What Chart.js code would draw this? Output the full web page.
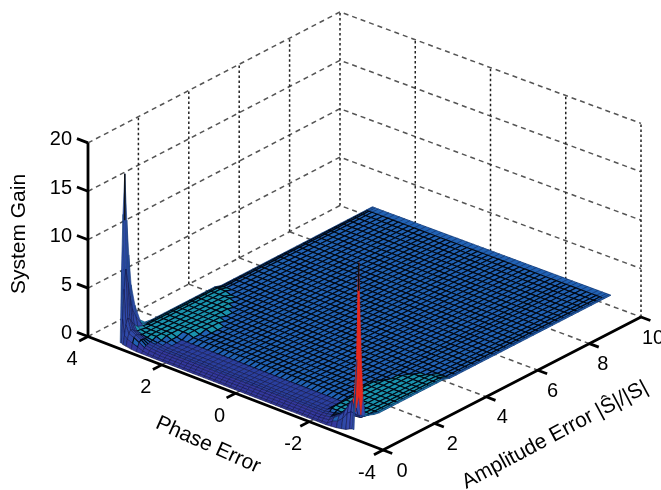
<!DOCTYPE html>
<html>
<head>
<meta charset="utf-8">
<script src="https://cdn.jsdelivr.net/npm/chart.js@4"></script>
<style>
  body { margin: 0; background: #fff; }
</style>
</head>
<body>
<canvas id="gainChart" width="661" height="490"></canvas>
<script>
const zTicks = [0, 5, 10, 15, 20];
const phaseTicks = [4, 2, 0, -2, -4];
const ampTicks = [0, 2, 4, 6, 8, 10];

// sample positions of the surface
const amps = [0.02, 0.07, 0.13, 0.2, 0.28, 0.36, 0.45, 0.6, 0.8, 1,
  1.25, 1.5, 1.75, 2, 2.25, 2.5, 2.75, 3, 3.25, 3.5, 3.75, 4, 4.25, 4.5, 4.75, 5, 5.25, 5.5,
  5.75, 6, 6.25, 6.5, 6.75, 7, 7.25, 7.5, 7.75, 8, 8.25, 8.5, 8.75, 9, 9.25, 9.5, 9.75, 10];
const phases = [3.14, 3.11, 3.06, 2.98, 2.84, 2.7, 2.56, 2.42, 2.28,
  2.14, 2, 1.86, 1.72, 1.58, 1.44, 1.3, 1.16, 1.02, 0.88, 0.74, 0.6, 0.46, 0.32, 0.18, 0.04,
  -0.1, -0.24, -0.38, -0.52, -0.66, -0.8, -0.94, -1.08, -1.22, -1.36, -1.5, -1.64, -1.78, -1.92, -2.06, -2.18,
  -2.3, -2.44, -2.58, -2.72, -2.86, -2.98, -3.08, -3.15, -3.2];

// gain, low amplitude part (first 10 amps) per phase band
const lowL0 = [0.6, 8, 13.7, 17.8, 12.9, 9.2, 6, 3.7, 1.9, 1.4];
const lowL1 = [0.6, 3, 6, 8, 6.5, 5, 3.6, 2.5, 1.6, 1.3];
const lowL2 = [0.5, 1.4, 2.4, 3, 2.8, 2.4, 2, 1.6, 1.4, 1.3];
const lowL3 = [0.45, 1.1, 1.6, 1.9, 1.8, 1.6, 1.45, 1.4, 1.3, 1.3];
const low4 = [0.35, 0.9, 1.4, 1.6, 1.5, 1.4, 1.3, 1.3, 1.3, 1.3];
const low5 = [0.3, 0.7, 1.1, 1.3, 1.25, 1.2, 1.2, 1.3, 1.3, 1.3];
const low6 = [0.3, 0.5, 0.75, 0.9, 0.95, 1.05, 1.1, 1.3, 1.3, 1.3];
const low7 = [0.3, 0.4, 0.65, 0.8, 0.9, 1, 1.05, 1.1, 1.3, 1.3];
const low8 = [0.3, 0.4, 0.6, 0.75, 0.85, 0.92, 0.96, 1.05, 1.1, 1.1];
const lowMid = [0.3, 0.38, 0.55, 0.7, 0.8, 0.85, 0.9, 0.93, 0.95, 0.98];
const lowR0 = [0.9, 4.5, 8, 17.9, 10, 4, 1.9, 1.6, 1.4, 1.3];
const lowR1 = [0.9, 2.5, 2.5, 8, 4, 1.9, 1.6, 1.5, 1.4, 1.3];
const lowR2 = [0.8, 2.5, 3.6, 3.8, 2.6, 1.7, 1.4, 1.35, 1.3, 1.3];
const lowR3 = [0.6, 2.2, 3, 3.2, 2.4, 1.8, 1.35, 1.3, 1.3, 1.3];
const lowR4 = [0.5, 1.5, 2.1, 2.2, 1.9, 1.5, 1.3, 1.3, 1.3, 1.3];
const lowR5 = [0.4, 1, 1.5, 1.6, 1.4, 1.3, 1.2, 1.3, 1.3, 1.3];
const lowR6 = [0.35, 0.8, 1.1, 1.2, 1.2, 1.2, 1.2, 1.3, 1.3, 1.3];
const lowR7 = [0.3, 0.4, 0.65, 0.85, 0.95, 1.05, 1.2, 1.3, 1.3, 1.3];
const lowR8 = [0.3, 0.4, 0.6, 0.75, 0.85, 0.95, 1.2, 1.3, 1.3, 1.3];

// rest of each row, amplitude 1.25 to 10
const tailFlat = [1.1, 1.1, 1.1, 1.1, 1.1, 1.1, 1.1, 1.1, 1.1, 1.1, 1.1, 1.1, 1.1, 1.1, 1.1, 1.1, 1.1, 1.1,
  1.1, 1.1, 1.1, 1.1, 1.1, 1.1, 1.1, 1.1, 1.1, 1.1, 1.1, 1.1, 1.1, 1.1, 1.1, 1.1, 1.1, 1.1];
const tailT11 = [1.3, 1.3, 1.3, 1.3, 1.3, 1.3, 1.3, 1.3, 1.3, 1.3, 1.3, 1.1, 1.1, 1.1, 1.1, 1.1, 1.1, 1.1,
  1.1, 1.1, 1.1, 1.1, 1.1, 1.1, 1.1, 1.1, 1.1, 1.1, 1.1, 1.1, 1.1, 1.1, 1.1, 1.1, 1.1, 1.1];
const tailT10 = [1.3, 1.3, 1.3, 1.3, 1.3, 1.3, 1.3, 1.3, 1.3, 1.3, 1.1, 1.1, 1.1, 1.1, 1.1, 1.1, 1.1, 1.1,
  1.1, 1.1, 1.1, 1.1, 1.1, 1.1, 1.1, 1.1, 1.1, 1.1, 1.1, 1.1, 1.1, 1.1, 1.1, 1.1, 1.1, 1.1];
const tailT9 = [1.3, 1.3, 1.3, 1.3, 1.3, 1.3, 1.3, 1.3, 1.3, 1.1, 1.1, 1.1, 1.1, 1.1, 1.1, 1.1, 1.1, 1.1,
  1.1, 1.1, 1.1, 1.1, 1.1, 1.1, 1.1, 1.1, 1.1, 1.1, 1.1, 1.1, 1.1, 1.1, 1.1, 1.1, 1.1, 1.1];
const tailT8 = [1.3, 1.3, 1.3, 1.3, 1.3, 1.3, 1.3, 1.3, 1.1, 1.1, 1.1, 1.1, 1.1, 1.1, 1.1, 1.1, 1.1, 1.1,
  1.1, 1.1, 1.1, 1.1, 1.1, 1.1, 1.1, 1.1, 1.1, 1.1, 1.1, 1.1, 1.1, 1.1, 1.1, 1.1, 1.1, 1.1];
const tailT6 = [1.3, 1.3, 1.3, 1.3, 1.3, 1.3, 1.1, 1.1, 1.1, 1.1, 1.1, 1.1, 1.1, 1.1, 1.1, 1.1, 1.1, 1.1,
  1.1, 1.1, 1.1, 1.1, 1.1, 1.1, 1.1, 1.1, 1.1, 1.1, 1.1, 1.1, 1.1, 1.1, 1.1, 1.1, 1.1, 1.1];
const tailT3 = [1.1, 1.1, 1.3, 1.3, 1.3, 1.1, 1.1, 1.1, 1.1, 1.1, 1.1, 1.1, 1.1, 1.1, 1.1, 1.1, 1.1, 1.1,
  1.1, 1.1, 1.1, 1.1, 1.1, 1.1, 1.1, 1.1, 1.1, 1.1, 1.1, 1.1, 1.1, 1.1, 1.1, 1.1, 1.1, 1.1];

const rowMid = [...lowMid, ...tailFlat];
const gain = [
  [...lowL0, ...tailT11], [...lowL1, ...tailT11], [...lowL2, ...tailT11], [...lowL3, ...tailT11],
  [...low4, ...tailT11], [...low5, ...tailT10], [...low6, ...tailT10], [...low7, ...tailT9], [...low8, ...tailT8],
  [...lowMid, ...tailT6], [...lowMid, ...tailT3], rowMid, rowMid, rowMid, rowMid, rowMid, rowMid, rowMid, rowMid, rowMid, rowMid, rowMid, rowMid, rowMid, rowMid,
  rowMid, rowMid, rowMid, rowMid, rowMid, rowMid, rowMid, rowMid, rowMid, rowMid, rowMid, rowMid, rowMid, rowMid, rowMid, [...lowMid, ...tailT3],
  [...lowR8, ...tailT6], [...lowR7, ...tailT8], [...lowR6, ...tailT9], [...lowR5, ...tailT9], [...lowR4, ...tailT10],
  [...lowR3, ...tailT10], [...lowR2, ...tailT10], [...lowR1, ...tailT10], [...lowR0, ...tailT10],
];

// ridge of each spike: amplitude, phase, gain where the dark tip starts, gain at the tip
const spikeTips = [[0.2, 3.14, 13, 17.8], [0.2, -3.2, 15, 17.9]];

// box corners on screen at z=0: [amp 0, phase 4], [amp 10, phase 4], [amp 0, phase -4], [amp 10, phase -4]
const cornerL = [88, 336.5], cornerB = [340, 205.5], cornerF = [383, 450], cornerR = [641, 317];
const zPixels = 9.68;

function project(amp, phase, z) {
  const s = amp / 10, t = (4 - phase) / 8;
  const x = cornerL[0]*(1-s)*(1-t) + cornerB[0]*s*(1-t) + cornerF[0]*(1-s)*t + cornerR[0]*s*t;
  const y = cornerL[1]*(1-s)*(1-t) + cornerB[1]*s*(1-t) + cornerF[1]*(1-s)*t + cornerR[1]*s*t;
  return { x: x, y: y - z * zPixels };
}

function lineSet(points, color, width, dash) {
  return { data: points, showLine: true, fill: false, pointRadius: 0, borderColor: color, borderWidth: width, borderDash: dash || [] };
}

function faceColor(avg, top, phase, amp) {
  if (top > 2.2 && phase < 0) {
    if (avg > 4.45) return "#e8281e";
    if (avg > 3.2) return "#7fc24a";
    return "#3648ac";
  }
  if (top > 2.2) return "#2f49a8";
  if (avg >= 1.2) return amp < 0.45 ? "#2f49a8" : "#1a93ad";
  if (avg >= 1) return "#2162b4";
  if (avg >= 0.8) return "#2a3f9e";
  return "#33389e";
}

const datasets = [];
const slantGrid = "#555555", vertGrid = "#222222";

// back walls and floor
zTicks.forEach(z => {
  datasets.push(lineSet([project(0, 4, z), project(10, 4, z), project(10, -4, z)], slantGrid, 1.5, [5, 4]));
});
[2, 4, 6, 8, 10].forEach(a => {
  datasets.push(lineSet([project(a, 4, 0), project(a, 4, 20)], vertGrid, 1.5, [2.5, 2.5]));
});
[2, 0, -2, -4].forEach(p => {
  datasets.push(lineSet([project(10, p, 0), project(10, p, 20)], vertGrid, 1.5, [2.5, 2.5]));
});
[2, 4, 6, 8].forEach(a => {
  datasets.push(lineSet([project(a, 4, 0), project(a, -4, 0)], slantGrid, 1.5, [5, 4]));
});
[2, 0, -2].forEach(p => {
  datasets.push(lineSet([project(0, p, 0), project(10, p, 0)], slantGrid, 1.5, [5, 4]));
});

// surface, far cells first
const lastRow = phases.length - 2, lastCol = amps.length - 2;
for (let i = 0; i <= lastRow; i++) {
  for (let j = lastCol; j >= 0; j--) {
    const z = [gain[i][j], gain[i][j+1], gain[i+1][j+1], gain[i+1][j]];
    const avg = (z[0] + z[1] + z[2] + z[3]) / 4;
    const top = Math.max(...z);
    const fillColor = faceColor(avg, top, phases[i], amps[j]);
    const soft = avg < 1 || top > 1.45;
    const outer = i === 0 || i === lastRow || j === lastCol;
    let edgeColor = soft ? "#10164a" : "#000814";
    if (fillColor === "#e8281e") edgeColor = fillColor;
    else if (outer) edgeColor = "#123a78";
    const p0 = project(amps[j], phases[i], z[0]);
    datasets.push({
      data: [p0, project(amps[j+1], phases[i], z[1]), project(amps[j+1], phases[i+1], z[2]), project(amps[j], phases[i+1], z[3]), p0],
      showLine: true, fill: "shape", pointRadius: 0,
      backgroundColor: fillColor,
      borderColor: edgeColor,
      borderWidth: soft ? 0.6 : (outer ? 0.8 : 1.1),
    });
  }
}

spikeTips.forEach(s => {
  datasets.push(lineSet([project(s[0], s[1], s[2]), project(s[0], s[1], s[3])], "#111111", 1.4));
});

// axes
datasets.push(lineSet([project(0, 4, 20), project(0, 4, 0), project(0, -4, 0), project(10, -4, 0)], "#000000", 2.8));
zTicks.forEach(z => datasets.push(lineSet([project(0, 4, z), project(0, 4.3, z)], "#000000", 2.8)));
phaseTicks.forEach(p => datasets.push(lineSet([project(0, p, 0), project(-0.35, p, 0)], "#000000", 2.8)));
ampTicks.forEach(a => datasets.push(lineSet([project(a, -4, 0), project(a, -4.25, 0)], "#000000", 2.8)));

// text is placed relative to the axis points
const labelsPlugin = {
  id: "boxLabels",
  afterDatasetsDraw(chart) {
    const ctx = chart.ctx, sx = chart.scales.x, sy = chart.scales.y;
    const put = (txt, pt, dx, dy, align, size, rot) => {
      ctx.save();
      ctx.translate(sx.getPixelForValue(pt.x) + dx, sy.getPixelForValue(pt.y) + dy);
      ctx.rotate(rot || 0);
      ctx.textAlign = align;
      ctx.textBaseline = "middle";
      ctx.fillStyle = "#000";
      ctx.font = size + "px 'Liberation Sans', Arial, sans-serif";
      ctx.fillText(txt, 0, 0);
      ctx.restore();
    };
    zTicks.forEach(z => put(String(z), project(0, 4, z), -16, -3, "right", 20));
    phaseTicks.forEach(p => put(String(p), project(0, p, 0), -16, 23, "center", 20));
    ampTicks.forEach(a => put(String(a), project(a, -4, 0), 19 - 0.7 * a, 21, "center", 20));
    put("System Gain", { x: 19, y: 234 }, 0, 0, "center", 21, -Math.PI / 2);
    put("Phase Error", { x: 208, y: 445 }, 0, 0, "center", 21, 0.42);
    put("Amplitude Error |Ŝ|/|S|", { x: 555, y: 435 }, 0, 0, "center", 21, -0.49);
  },
};

new Chart(document.getElementById("gainChart"), {
  type: "scatter",
  data: { datasets: datasets.reverse() },
  plugins: [labelsPlugin],
  options: {
    responsive: false,
    animation: false,
    parsing: false,
    normalized: true,
    events: [],
    layout: { padding: 0 },
    plugins: { legend: { display: false }, tooltip: { enabled: false } },
    scales: {
      x: { type: "linear", display: false, min: 0, max: 661 },
      y: { type: "linear", display: false, min: 0, max: 490, reverse: true },
    },
  },
});
</script>
</body>
</html>
